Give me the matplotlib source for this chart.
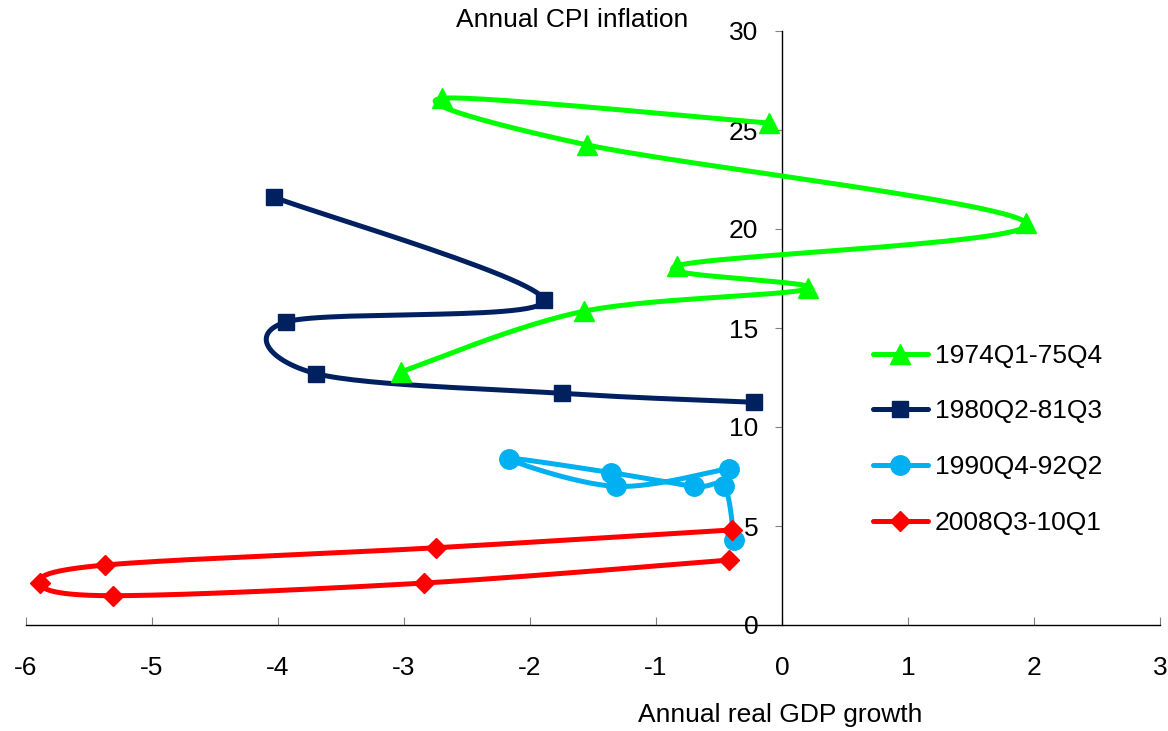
import numpy as np
import matplotlib
matplotlib.use("Agg")
import matplotlib.pyplot as plt

plt.rcParams['font.family'] = ['Liberation Sans', 'DejaVu Sans']
plt.rcParams['axes.unicode_minus'] = False

# GDP growth (x) and CPI inflation (y) for each episode, in quarter order
gdp_74 = [-3.02, -1.57, 0.21, -0.83, 1.94, -1.55, -2.70, -0.10]
cpi_74 = [12.8, 15.85, 17.0, 18.15, 20.3, 24.25, 26.6, 25.35]

gdp_80 = [-4.03, -1.89, -3.94, -3.70, -1.75, -0.22]
cpi_80 = [21.6, 16.4, 15.3, 12.7, 11.7, 11.25]

gdp_90 = [-0.42, -1.32, -2.17, -1.36, -0.70, -0.46, -0.38]
cpi_90 = [7.9, 7.0, 8.4, 7.7, 7.0, 7.0, 4.3]

gdp_08 = [-0.40, -2.75, -5.37, -5.89, -5.31, -2.84, -0.42]
cpi_08 = [4.8, 3.9, 3.03, 2.12, 1.48, 2.12, 3.28]

labels = ['1974Q1-75Q4', '1980Q2-81Q3', '1990Q4-92Q2', '2008Q3-10Q1']
colors = ['#00FF00', '#002060', '#00B0F0', '#FF0000']
markers = ['^', 's', 'o', 'D']
msizes = [14, 11, 14, 10]


def smooth(xs, ys, n=30):
    # bezier smoothing through the points, like a spreadsheet "smoothed line"
    p = np.column_stack([xs, ys]).astype(float)
    pts = np.vstack([p[0], p, p[-1]])
    out = []
    t = np.linspace(0, 1, n)[:, None]
    for i in range(1, len(pts) - 2):
        p0, p1, p2, p3 = pts[i - 1], pts[i], pts[i + 1], pts[i + 2]
        c1 = p1 + (p2 - p0) / 6
        c2 = p2 - (p3 - p1) / 6
        seg = ((1 - t) ** 3 * p1 + 3 * (1 - t) ** 2 * t * c1
               + 3 * (1 - t) * t ** 2 * c2 + t ** 3 * p2)
        out.append(seg)
    c = np.vstack(out)
    return c[:, 0], c[:, 1]


fig = plt.figure(figsize=(11.68, 7.31), dpi=100)
ax = fig.add_axes([26 / 1168, 106 / 731, 1134 / 1168, 594 / 731])

series = [(gdp_74, cpi_74), (gdp_80, cpi_80), (gdp_90, cpi_90), (gdp_08, cpi_08)]
for (xs, ys), lab, col, mk, ms in zip(series, labels, colors, markers, msizes):
    sx, sy = smooth(xs, ys)
    ax.plot(sx, sy, color=col, lw=3.6, solid_capstyle='round', zorder=3)
    ax.plot(xs, ys, linestyle='none', marker=mk, ms=ms, color=col, zorder=4)
    ax.plot([], [], color=col, lw=3.6, marker=mk, ms=ms, label=lab,
            solid_capstyle='round')

ax.set_xlim(-6, 3)
ax.set_ylim(0, 30)
ax.set_xticks(range(-6, 4))
ax.set_yticks(range(0, 31, 5))

ax.spines['left'].set_position(('data', 0))
ax.spines['top'].set_visible(False)
ax.spines['right'].set_visible(False)
for s in ['left', 'bottom']:
    ax.spines[s].set_linewidth(1)
    ax.spines[s].set_zorder(2)

ax.tick_params(axis='x', direction='in', length=6, width=0.8, color='#808080',
               pad=22, labelsize=19)
ax.tick_params(axis='y', direction='out', length=5, width=0.8, color='#808080',
               pad=12, labelsize=19)

fig.text(572 / 1168, 1 - 20 / 731, 'Annual CPI inflation', ha='center', va='center', fontsize=19)
fig.text(780 / 1168, 1 - 715 / 731, 'Annual real GDP growth', ha='center', va='center', fontsize=19)

ax.legend(loc='upper left', bbox_to_anchor=(849 / 1168, 1 - 320 / 731),
          bbox_transform=fig.transFigure, frameon=False, fontsize=19,
          handlelength=2.1, labelspacing=1.2, handletextpad=0.25)

fig.savefig('out.png', dpi=100)
